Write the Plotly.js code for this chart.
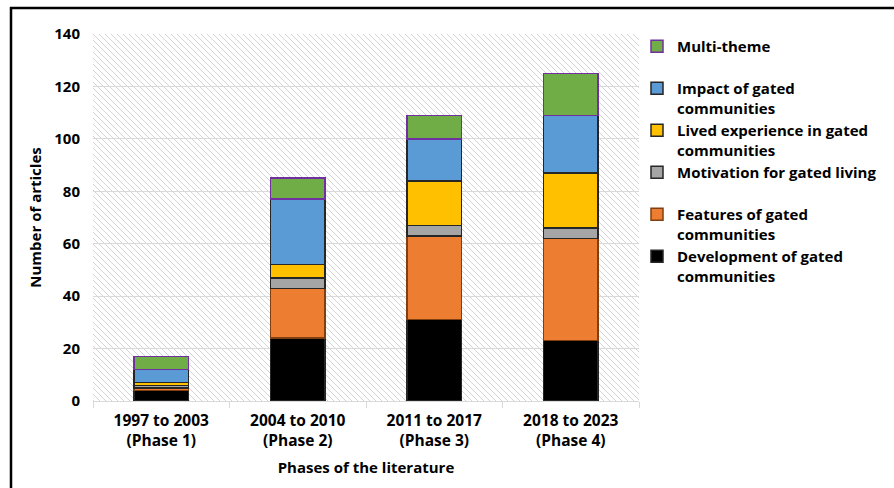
<!DOCTYPE html>
<html>
<head>
<meta charset="utf-8">
<script src="https://cdn.plot.ly/plotly-3.0.1.min.js"></script>
<style>html,body{margin:0;padding:0;background:#fff;}#chart{width:894px;height:488px;}</style>
</head>
<body>
<div id="chart"></div>
<script>
var categories = ["1997 to 2003<br>(Phase 1)", "2004 to 2010<br>(Phase 2)", "2011 to 2017<br>(Phase 3)", "2018 to 2023<br>(Phase 4)"];
var development = [4, 24, 31, 23];
var features = [1, 19, 32, 39];
var motivation = [1, 4, 4, 4];
var lived = [1, 5, 17, 21];
var impact = [5, 25, 16, 22];
var multiTheme = [5, 8, 9, 16];
var yTicks = [0, 20, 40, 60, 80, 100, 120, 140];

var FONT = "'Open Sans', Lato, sans-serif";
function bar(name, y, fill, line) {
  return {type: "bar", name: name, x: categories, y: y,
    marker: {color: fill, line: {color: line, width: 1.5}},
    hoverinfo: "name+y"};
}
var data = [
  bar("Development of gated<br>communities", development, "#000000", "#262626"),
  bar("Features of gated<br>communities", features, "#ed7d31", "#7f3f10"),
  bar("Motivation for gated living<br>&nbsp;", motivation, "#a5a5a5", "#262626"),
  bar("Lived experience in gated<br>communities", lived, "#ffc000", "#262626"),
  bar("Impact of gated<br>communities", impact, "#5b9bd5", "#262626"),
  bar("Multi-theme<br>&nbsp;", multiTheme, "#70ad47", "#7030a0")
];

var hatch = "<svg xmlns='http://www.w3.org/2000/svg' width='546' height='367'>" +
  "<defs><pattern id='p' patternUnits='userSpaceOnUse' width='6' height='6'>" +
  "<path d='M0,0 L6,6 M-1,5 L1,7 M5,-1 L7,1' stroke='#d4d4d4' stroke-width='1'/></pattern></defs>" +
  "<rect width='546' height='367' fill='url(#p)'/></svg>";
var hatchURI = "data:image/svg+xml;charset=utf-8," + encodeURIComponent(hatch);

var L = 93, R = 639, T = 34, B = 401;
var W = R - L, H = B - T;
function px(x) { return (x - L) / W; }
function py(y) { return (B - y) / H; }

var layout = {
  width: 894, height: 488,
  margin: {l: L, r: 894 - R, t: T, b: 488 - B, autoexpand: false},
  paper_bgcolor: "#ffffff",
  plot_bgcolor: "rgba(0,0,0,0)",
  barmode: "stack",
  bargap: 0.6,
  font: {family: FONT, size: 15, color: "#000000", weight: "bold"},
  showlegend: true,
  legend: {x: px(637), y: py(30), xanchor: "left", yanchor: "top",
    traceorder: "reversed", valign: "top", maxheight: 440,
    font: {family: FONT, size: 15, color: "#000", weight: "bold"},
    bgcolor: "rgba(0,0,0,0)", itemwidth: 30},
  xaxis: {
    type: "category",
    showgrid: false,
    showline: true, linecolor: "#d9d9d9", linewidth: 1,
    ticks: "outside", tickson: "boundaries", ticklen: 6, tickcolor: "#d9d9d9", tickwidth: 1,
    ticklabelstandoff: 5,
    tickfont: {family: FONT, size: 15.5, color: "#000", weight: "bold"},
    title: {text: "Phases of the literature", font: {family: FONT, size: 15, color: "#000", weight: "bold"}, standoff: 12},
    automargin: false
  },
  yaxis: {
    range: [0, 140],
    tickvals: yTicks,
    showgrid: true, gridcolor: "#d9d9d9", gridwidth: 1,
    zeroline: false, showline: false,
    ticks: "", ticklabelstandoff: 12,
    tickfont: {family: FONT, size: 15, color: "#000", weight: "bold"},
    title: {text: "Number of articles", font: {family: FONT, size: 15, color: "#000", weight: "bold"}, standoff: 9},
    automargin: false
  },
  images: [{source: hatchURI, xref: "paper", yref: "paper", x: 0, y: 1, sizex: 1, sizey: 1,
    xanchor: "left", yanchor: "top", sizing: "stretch", layer: "below"}],
  shapes: [
    {type: "line", xref: "paper", yref: "paper", x0: px(11), x1: px(11), y0: py(7), y1: py(490), line: {color: "#000", width: 2.5}},
    {type: "line", xref: "paper", yref: "paper", x0: px(10), x1: px(896), y0: py(8), y1: py(8), line: {color: "#000", width: 2.5}}
  ]
};

Plotly.newPlot("chart", data, layout, {displayModeBar: false, staticPlot: true});
</script>
</body>
</html>
